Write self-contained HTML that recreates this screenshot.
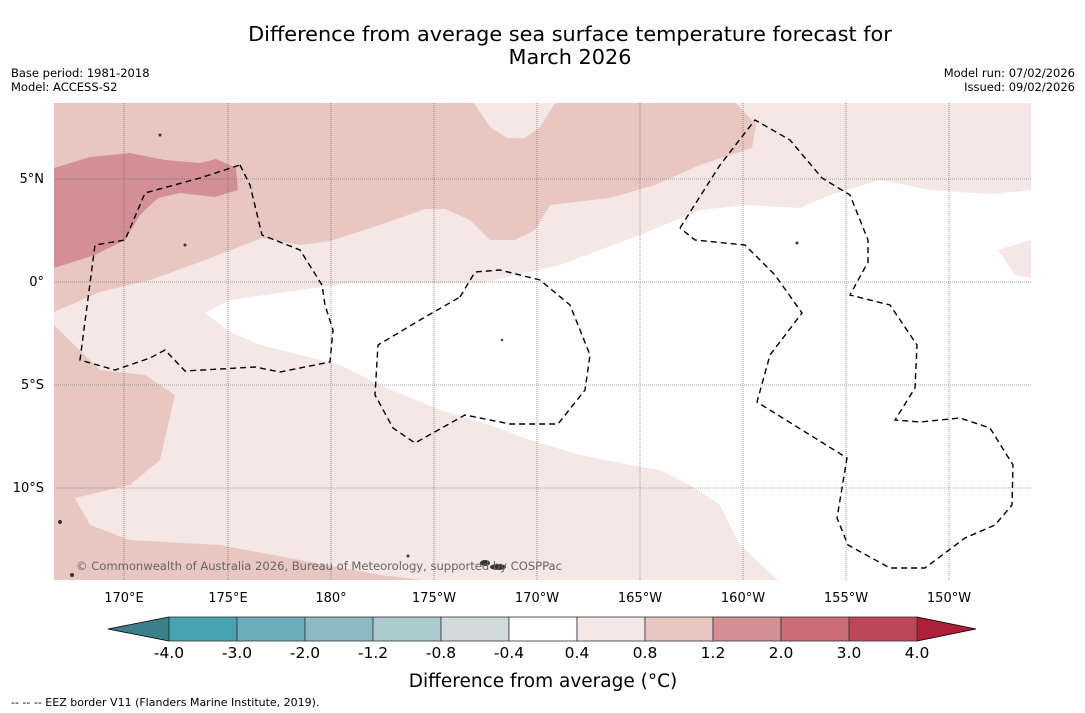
<!DOCTYPE html>
<html><head><meta charset="utf-8"><style>
body{margin:0;background:#fff;width:1085px;height:713px;overflow:hidden;font-family:"DejaVu Sans","Liberation Sans",sans-serif;}
svg{position:absolute;left:0;top:0}
</style></head><body>
<svg width="1085" height="713" viewBox="0 0 1085 713">
<text x="570" y="41" text-anchor="middle" font-size="20.8" fill="#000">Difference from average sea surface temperature forecast for</text>
<text x="570" y="64" text-anchor="middle" font-size="20.8" fill="#000">March 2026</text>
<text x="11" y="77" font-size="11.5">Base period: 1981-2018</text>
<text x="11" y="91" font-size="11.5">Model: ACCESS-S2</text>
<text x="1075" y="77" font-size="11.5" text-anchor="end">Model run: 07/02/2026</text>
<text x="1075" y="91" font-size="11.5" text-anchor="end">Issued: 09/02/2026</text>
<defs><clipPath id="mc"><rect x="54" y="103" width="977" height="477"/></clipPath></defs>
<g clip-path="url(#mc)">
<rect x="54" y="103" width="977" height="477" fill="#f5e7e5"/>
<path d="M54,103 L474,103 490,127 507,138 525,138 540,127 555,103 736,103 756,125 752,148 700,165 655,185 610,198 550,205 535,230 515,240 490,240 470,220 445,209 425,209 380,225 330,241 300,245 262,238 200,262 150,280 100,292 54,312 Z" fill="#e8c7c2"/>
<path d="M54,325 L100,370 145,375 175,395 160,460 130,485 75,498 90,525 130,540 220,545 300,560 380,575 440,582 54,582 Z" fill="#e8c7c2"/>
<path d="M54,168 L90,157 130,153 165,160 200,163 216,159 236,168 238,190 215,197 180,193 158,198 140,215 125,240 95,255 54,268 Z" fill="#d48f96"/>
<path d="M205,313 L230,300 300,290 350,283 480,283 560,265 640,235 700,210 745,205 800,208 830,195 880,180 930,190 990,194 1031,190 1031,582 780,582 740,545 720,505 690,485 660,470 630,465 580,455 530,440 490,425 440,410 380,385 340,365 300,355 260,345 230,332 Z" fill="#fff"/>
<path d="M998,250 L1031,240 1031,278 1015,275 Z" fill="#f5e7e5"/>
<g stroke="#555" stroke-width="0.6" stroke-dasharray="1,1">
<line x1="124" y1="103" x2="124" y2="580"/><line x1="228" y1="103" x2="228" y2="580"/><line x1="331" y1="103" x2="331" y2="580"/><line x1="434" y1="103" x2="434" y2="580"/><line x1="537" y1="103" x2="537" y2="580"/><line x1="640" y1="103" x2="640" y2="580"/><line x1="743" y1="103" x2="743" y2="580"/><line x1="846" y1="103" x2="846" y2="580"/><line x1="949" y1="103" x2="949" y2="580"/>
<line x1="54" y1="179" x2="1031" y2="179"/><line x1="54" y1="282" x2="1031" y2="282"/><line x1="54" y1="385" x2="1031" y2="385"/><line x1="54" y1="488" x2="1031" y2="488"/>
</g>
<g fill="none" stroke="#000" stroke-width="1.4" stroke-dasharray="6,4">
<path d="M240,165 L250,185 262,235 300,250 322,285 325,305 333,330 330,362 280,372 255,367 185,371 165,350 150,358 115,370 80,360 95,245 125,240 145,193 200,178 240,165"/>
<path d="M460,297 L475,272 500,270 540,280 570,305 590,355 585,390 558,424 510,424 465,415 415,443 393,428 375,395 378,345 420,320 460,297"/>
<path d="M680,228 L720,165 755,120 790,140 822,178 850,195 868,240 868,262 850,295 890,305 917,345 915,388 895,420 920,422 960,418 990,428 1013,465 1012,505 995,525 965,538 925,568 890,568 848,545 837,518 847,458 757,402 770,355 802,313 775,275 745,245 695,240 680,228"/>
</g>
<g fill="#333">
<ellipse cx="498" cy="567" rx="8" ry="3"/><ellipse cx="485" cy="563" rx="5" ry="3"/><circle cx="185" cy="245" r="1.5"/><circle cx="160" cy="135" r="1.5"/><circle cx="60" cy="522" r="2"/><circle cx="72" cy="575" r="2"/><circle cx="408" cy="556" r="1.5"/><circle cx="502" cy="340" r="1.2"/><circle cx="797" cy="243" r="1.5"/>
</g>
<text x="76" y="570" font-size="11.6" fill="#666" textLength="486">© Commonwealth of Australia 2026, Bureau of Meteorology, supported by COSPPac</text>
</g>
<g font-size="13" fill="#000">
<text x="44" y="183" text-anchor="end">5°N</text><text x="44" y="286" text-anchor="end">0°</text><text x="44" y="389" text-anchor="end">5°S</text><text x="44" y="492" text-anchor="end">10°S</text>
<text x="124" y="602" text-anchor="middle">170°E</text><text x="228" y="602" text-anchor="middle">175°E</text><text x="331" y="602" text-anchor="middle">180°</text><text x="434" y="602" text-anchor="middle">175°W</text><text x="537" y="602" text-anchor="middle">170°W</text><text x="640" y="602" text-anchor="middle">165°W</text><text x="743" y="602" text-anchor="middle">160°W</text><text x="846" y="602" text-anchor="middle">155°W</text><text x="949" y="602" text-anchor="middle">150°W</text>
</g>
<g id="cbar"></g>
<text x="543" y="687" text-anchor="middle" font-size="18.5">Difference from average (°C)</text>
<text x="11" y="706" font-size="11">-- -- -- EEZ border V11 (Flanders Marine Institute, 2019).</text>
</svg>
<script>
const levels=["-4.0","-3.0","-2.0","-1.2","-0.8","-0.4","0.4","0.8","1.2","2.0","3.0","4.0"];
const colors=["#47a2b2","#6badbb","#8bb9c4","#aacacd","#d1d9db","#ffffff","#f5e7e5","#e8c7c2","#d48f96","#ca6b75","#bd4758"];
const ns="http://www.w3.org/2000/svg",g=document.getElementById('cbar');
const x0=169,x1=917,y0=617,h=24,w=(x1-x0)/colors.length;
function mk(t,a){const e=document.createElementNS(ns,t);for(const k in a)e.setAttribute(k,a[k]);g.appendChild(e);return e;}
const l=mk('polygon',{points:`108,629 ${x0},${y0} ${x0},${y0+h}`,fill:'#3a7f8a',stroke:'#000','stroke-width':0.8});


const r=mk('polygon',{points:`976,629 ${x1},${y0} ${x1},${y0+h}`,fill:'#ad1f3a',stroke:'#000','stroke-width':0.8});


colors.forEach((c,i)=>{const b=mk('rect',{x:x0+i*w,y:y0,width:w,height:h,fill:c,stroke:'#333','stroke-width':0.8});

});
levels.forEach((s,i)=>{const t=mk('text',{x:x0+i*w,y:658,'text-anchor':'middle','font-size':15.5});t.textContent=s;

});
</script>
</body></html>
